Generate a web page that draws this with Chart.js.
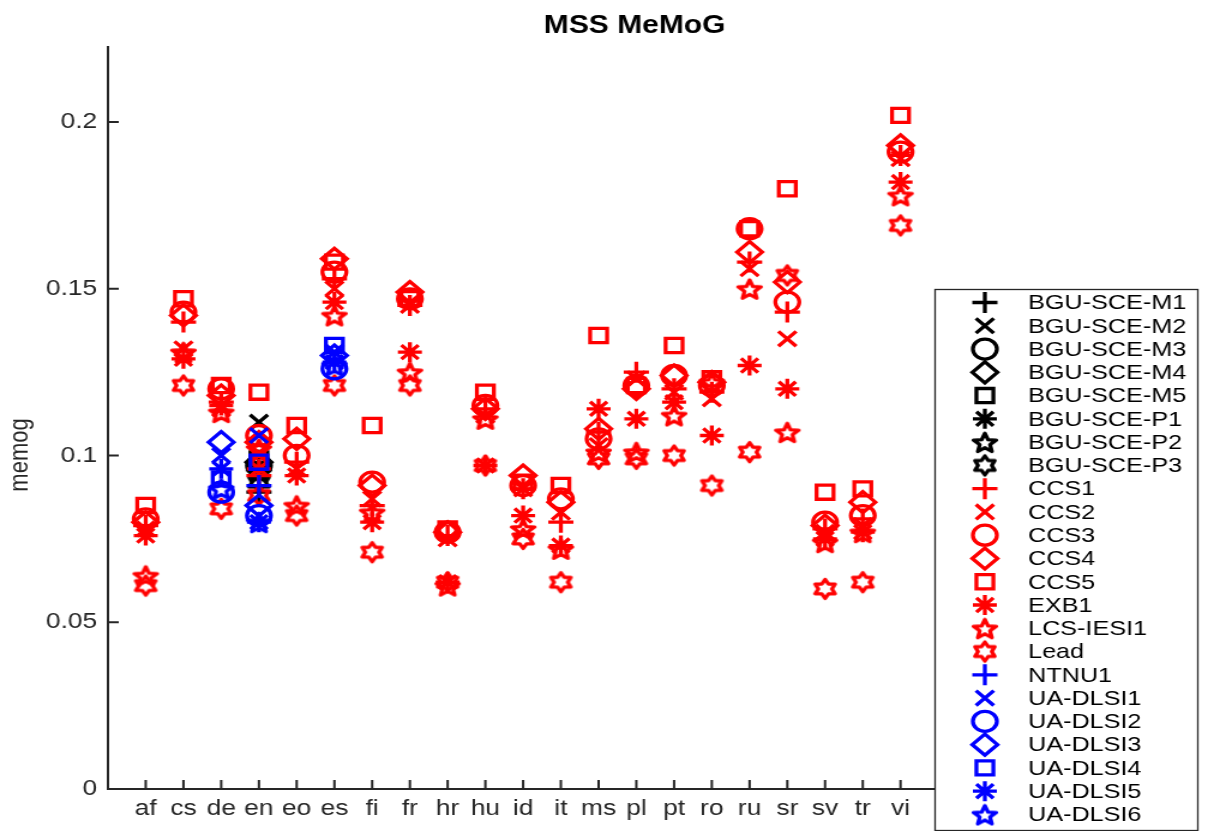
<!DOCTYPE html>
<html>
<head>
<meta charset="utf-8">
<title>MSS MeMoG</title>
<script src="https://cdn.jsdelivr.net/npm/chart.js"></script>
<style>
  html, body { margin: 0; padding: 0; background: #fff; overflow: hidden; }
</style>
</head>
<body>
<!-- the original figure is stretched sideways, so the canvas is drawn narrow and scaled up -->
<canvas id="c" width="1007" height="831" style="display:block;width:1208px;height:831px"></canvas>
<script>
const categories = ['af','cs','de','en','eo','es','fi','fr','hr','hu','id','it','ms','pl','pt','ro','ru','sr','sv','tr','vi'];
const yTickValues = [0, 0.05, 0.1, 0.15, 0.2];
const yTickLabels = ['0', '0.05', '0.1', '0.15', '0.2'];

const N = null;
// one value per language, null where the system has no run
//                af    cs    de    en    eo    es    fi    fr    hr    hu    id    it    ms    pl    pt    ro    ru    sr    sv    tr    vi
const bguM1  = [N,    N,    N,    0.089,N,    N,    N,    N,    N,    N,    N,    N,    N,    N,    N,    N,    N,    N,    N,    N,    N];
const bguM2  = [N,    N,    N,    0.110,N,    N,    N,    N,    N,    N,    N,    N,    N,    N,    N,    N,    N,    N,    N,    N,    N];
const bguM3  = [N,    N,    N,    0.097,N,    N,    N,    N,    N,    N,    N,    N,    N,    N,    N,    N,    N,    N,    N,    N,    N];
const bguM4  = [N,    N,    N,    0.098,N,    N,    N,    N,    N,    N,    N,    N,    N,    N,    N,    N,    N,    N,    N,    N,    N];
const bguM5  = [N,    N,    N,    0.099,N,    N,    N,    N,    N,    N,    N,    N,    N,    N,    N,    N,    N,    N,    N,    N,    N];
const bguP1  = [N,    N,    N,    0.097,N,    N,    N,    N,    N,    N,    N,    N,    N,    N,    N,    N,    N,    N,    N,    N,    N];
const bguP2  = [N,    N,    N,    0.095,N,    N,    N,    N,    N,    N,    N,    N,    N,    N,    N,    N,    N,    N,    N,    N,    N];
const bguP3  = [N,    N,    N,    0.092,N,    N,    N,    N,    N,    N,    N,    N,    N,    N,    N,    N,    N,    N,    N,    N,    N];
const ccs1   = [0.079,0.140,0.116,0.094,0.098,0.153,0.085,0.145,0.076,0.114,0.090,0.080,0.107,0.125,0.120,0.119,0.158,0.143,0.078,0.081,0.190];
const ccs2   = [0.078,0.132,0.114,0.100,0.096,0.150,0.087,0.145,0.075,0.112,0.090,0.083,0.103,0.123,0.119,0.117,0.156,0.135,0.077,0.079,0.189];
const ccs3   = [0.081,0.143,0.120,0.106,0.100,0.155,0.092,0.147,0.077,0.115,0.091,0.087,0.105,0.121,0.124,0.121,0.168,0.146,0.080,0.082,0.191];
const ccs4   = [0.080,0.142,0.118,0.104,0.105,0.159,0.091,0.149,0.077,0.114,0.094,0.086,0.108,0.120,0.124,0.122,0.161,0.152,0.079,0.086,0.193];
const ccs5   = [0.085,0.147,0.121,0.119,0.109,0.158,0.109,0.147,0.078,0.119,0.092,0.091,0.136,0.121,0.133,0.123,0.168,0.180,0.089,0.090,0.202];
const exb1   = [0.076,0.129,0.115,0.096,0.094,0.146,0.080,0.131,0.062,0.097,0.082,0.073,0.114,0.111,0.116,0.106,0.127,0.120,0.075,0.077,0.182];
const lcs1   = [0.064,0.131,0.113,0.102,0.085,0.142,0.083,0.125,0.061,0.111,0.078,0.072,0.101,0.101,0.112,0.122,0.150,0.107,0.074,0.077,0.178];
const lead   = [0.061,0.121,0.084,0.088,0.082,0.121,0.071,0.121,0.062,0.097,0.075,0.062,0.099,0.099,0.100,0.091,0.101,0.154,0.060,0.062,0.169];
const ntnu1  = [N,    N,    N,    0.091,N,    N,    N,    N,    N,    N,    N,    N,    N,    N,    N,    N,    N,    N,    N,    N,    N];
const uaDlsi1 = [N,   N,    0.100,0.106,N,    0.131,N,    N,    N,    N,    N,    N,    N,    N,    N,    N,    N,    N,    N,    N,    N];
const uaDlsi2 = [N,   N,    0.089,0.082,N,    0.126,N,    N,    N,    N,    N,    N,    N,    N,    N,    N,    N,    N,    N,    N,    N];
const uaDlsi3 = [N,   N,    0.104,0.085,N,    0.130,N,    N,    N,    N,    N,    N,    N,    N,    N,    N,    N,    N,    N,    N,    N];
const uaDlsi4 = [N,   N,    0.093,0.098,N,    0.133,N,    N,    N,    N,    N,    N,    N,    N,    N,    N,    N,    N,    N,    N,    N];
const uaDlsi5 = [N,   N,    0.096,0.080,N,    0.128,N,    N,    N,    N,    N,    N,    N,    N,    N,    N,    N,    N,    N,    N,    N];
const uaDlsi6 = [N,   N,    0.090,0.080,N,    0.127,N,    N,    N,    N,    N,    N,    N,    N,    N,    N,    N,    N,    N,    N,    N];

const systems = ['BGU-SCE-M1','BGU-SCE-M2','BGU-SCE-M3','BGU-SCE-M4','BGU-SCE-M5','BGU-SCE-P1','BGU-SCE-P2','BGU-SCE-P3',
                 'CCS1','CCS2','CCS3','CCS4','CCS5','EXB1','LCS-IESI1','Lead',
                 'NTNU1','UA-DLSI1','UA-DLSI2','UA-DLSI3','UA-DLSI4','UA-DLSI5','UA-DLSI6'];
const values = [bguM1, bguM2, bguM3, bguM4, bguM5, bguP1, bguP2, bguP3,
                ccs1, ccs2, ccs3, ccs4, ccs5, exb1, lcs1, lead,
                ntnu1, uaDlsi1, uaDlsi2, uaDlsi3, uaDlsi4, uaDlsi5, uaDlsi6];
const markers = ['+','x','o','d','s','*','p','h', '+','x','o','d','s','*','p','h', '+','x','o','d','s','*','p'];
const colours = ['#000','#000','#000','#000','#000','#000','#000','#000',
                 '#f00','#f00','#f00','#f00','#f00','#f00','#f00','#f00',
                 '#00f','#00f','#00f','#00f','#00f','#00f','#00f'];

const styleOf  = {'+': 'cross', 'x': 'crossRot', 'o': 'circle', 'd': 'rectRot', 's': 'rect', '*': 'star'};
const radiusOf = {'+': 10.5, 'x': 10.5, 'o': 10, 'd': 10.5, 's': 10, '*': 10, 'p': 10, 'h': 10};
const LW = 3.3;

// matlab pentagram / hexagram outlines as point images
function starImage(colour, n) {
  const size = 28;
  const R = n === 5 ? 10 : 9.5;
  const r = n === 5 ? R * 0.45 : R * 0.6;
  const c = document.createElement('canvas');
  c.width = size; c.height = size;
  const g = c.getContext('2d');
  g.strokeStyle = colour;
  g.lineWidth = LW;
  g.lineJoin = 'round';
  g.beginPath();
  for (let i = 0; i < 2 * n; i++) {
    const a = -Math.PI / 2 + i * Math.PI / n;
    const d = i % 2 ? r : R;
    const px = size / 2 + d * Math.cos(a);
    const py = size / 2 + d * Math.sin(a) + (n === 5 ? 1.2 : 0);
    if (i) g.lineTo(px, py); else g.moveTo(px, py);
  }
  g.closePath();
  g.stroke();
  return c;
}

const datasets = systems.map(function(name, k) {
  const pts = [];
  values[k].forEach(function(v, i) {
    if (v !== null) pts.push({x: i + 1, y: v});
  });
  const m = markers[k];
  return {
    label: name,
    data: pts,
    pointStyle: (m === 'p' || m === 'h') ? starImage(colours[k], m === 'p' ? 5 : 6) : styleOf[m],
    pointRadius: radiusOf[m],
    pointHoverRadius: radiusOf[m],
    borderColor: colours[k],
    backgroundColor: 'rgba(0,0,0,0)',
    pointBackgroundColor: 'rgba(0,0,0,0)',
    pointBorderWidth: LW,
    borderWidth: LW,
    order: systems.length - k   // later systems on top, like matlab
  };
});

const axisColour = '#262626';
Chart.defaults.font.family = '"Liberation Sans", Arial, Helvetica, sans-serif';

const decor = {
  id: 'decor',
  afterDraw: function(chart) {
    const ctx = chart.ctx;
    const a = chart.chartArea;
    const xs = chart.scales.x, ys = chart.scales.y;
    ctx.save();
    // inward ticks
    ctx.strokeStyle = axisColour;
    ctx.lineWidth = 2;
    ctx.beginPath();
    ys.ticks.forEach(function(t) {
      const p = ys.getPixelForValue(t.value);
      ctx.moveTo(a.left, p); ctx.lineTo(a.left + 9, p);
    });
    xs.ticks.forEach(function(t) {
      const p = xs.getPixelForValue(t.value);
      ctx.moveTo(p, a.bottom); ctx.lineTo(p, a.bottom - 9);
    });
    ctx.stroke();

    // title and y label
    ctx.fillStyle = '#000';
    ctx.font = 'bold 25px "Liberation Sans", Arial, sans-serif';
    ctx.textAlign = 'center';
    ctx.textBaseline = 'middle';
    ctx.fillText('MSS MeMoG', 529, 26);
    ctx.fillStyle = axisColour;
    ctx.font = '22px "Liberation Sans", Arial, sans-serif';
    ctx.translate(17, 455);
    ctx.rotate(-Math.PI / 2);
    ctx.fillText('memog', 0, 0);
    ctx.setTransform(1, 0, 0, 1, 0, 0);

    // legend box
    const lx = a.right, ly = 289, lw = 219, lh = 541;
    ctx.fillStyle = '#fff';
    ctx.fillRect(lx, ly, lw, lh);
    ctx.strokeStyle = axisColour;
    ctx.lineWidth = 1.3;
    ctx.strokeRect(lx + 0.5, ly + 0.5, lw, lh);
    chart.data.datasets.forEach(function(ds, k) {
      const cy = 302.5 + k * 23.27;
      ctx.strokeStyle = ds.borderColor;
      ctx.fillStyle = 'rgba(0,0,0,0)';
      ctx.lineWidth = LW;
      Chart.helpers.drawPoint(ctx, {pointStyle: ds.pointStyle, radius: ds.pointRadius, borderWidth: LW, rotation: 0}, lx + 42, cy);
      ctx.fillStyle = '#000';
      ctx.font = '21px "Liberation Sans", Arial, sans-serif';
      ctx.textAlign = 'left';
      ctx.textBaseline = 'middle';
      ctx.fillText(ds.label, lx + 78, cy + 1);
    });
    ctx.restore();
  }
};

const chart = new Chart(document.getElementById('c'), {
  type: 'scatter',
  data: {datasets: datasets},
  options: {
    responsive: false,
    animation: false,
    devicePixelRatio: 1,
    events: [],
    layout: {padding: {top: 47, right: 228, left: 0, bottom: 0}},
    plugins: {
      legend: {display: false},
      title: {display: false},
      tooltip: {enabled: false}
    },
    scales: {
      x: {
        type: 'linear',
        min: 0,
        max: 21.9,
        afterBuildTicks: function(s) { s.ticks = categories.map(function(c, i) { return {value: i + 1}; }); },
        afterFit: function(s) { s.height = 42; },
        ticks: {
          autoSkip: false, maxRotation: 0, padding: 7,
          color: axisColour, font: {size: 22},
          callback: function(v, i) { return categories[i]; }
        },
        grid: {drawOnChartArea: false, drawTicks: false},
        border: {color: axisColour, width: 2}
      },
      y: {
        min: 0,
        max: 0.2225,
        afterBuildTicks: function(s) { s.ticks = yTickValues.map(function(v) { return {value: v}; }); },
        afterFit: function(s) { s.width = 90; },
        ticks: {
          padding: 9, color: axisColour, font: {size: 22},
          callback: function(v, i) { return yTickLabels[i]; }
        },
        grid: {drawOnChartArea: false, drawTicks: false},
        border: {color: axisColour, width: 2}
      }
    }
  },
  plugins: [decor]
});
</script>
</body>
</html>
